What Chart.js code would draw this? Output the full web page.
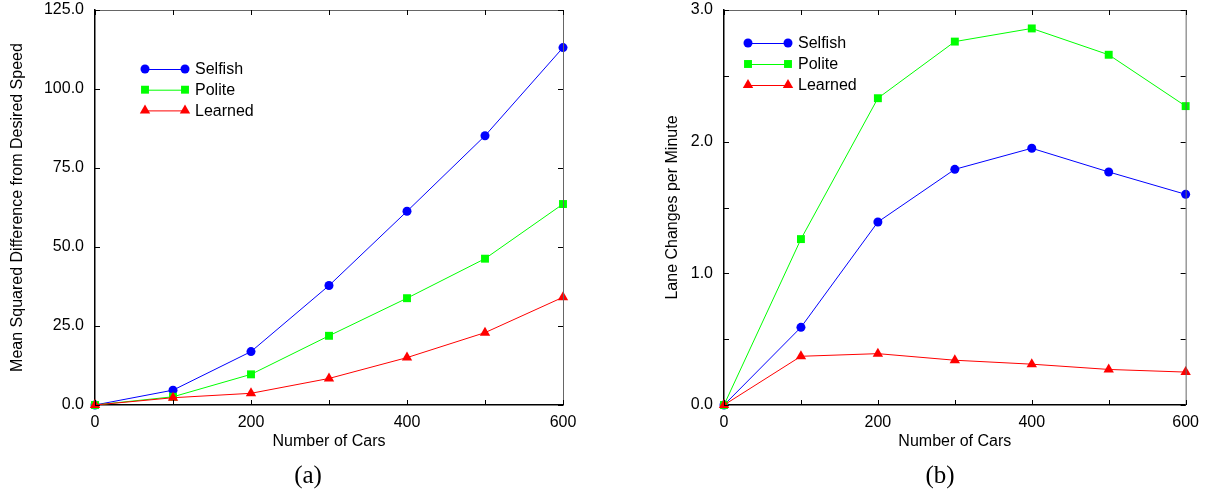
<!DOCTYPE html>
<html>
<head>
<meta charset="utf-8">
<script src="https://cdn.jsdelivr.net/npm/chart.js@4/dist/chart.umd.min.js"></script>
<style>
body { margin: 0; background: #fff; }
#wrap { position: relative; width: 1207px; height: 490px; }
canvas { position: absolute; top: 0; }
#chartA { left: 0; }
#chartB { left: 620px; }
</style>
</head>
<body>
<div id="wrap">
<canvas id="chartA" width="600" height="490"></canvas>
<canvas id="chartB" width="587" height="490"></canvas>
</div>
<script>
// values
const carCounts = [0, 100, 200, 300, 400, 500, 600];
const seriesNames = ['Selfish', 'Polite', 'Learned'];
const selfishSpeedDiff = [0, 4.7, 16.9, 37.8, 61.3, 85.2, 113.1];
const politeSpeedDiff = [0, 2.6, 9.7, 21.9, 33.8, 46.3, 63.6];
const learnedSpeedDiff = [0, 2.3, 3.7, 8.4, 15.0, 22.9, 34.1];
const selfishLaneChanges = [0, 0.59, 1.39, 1.79, 1.95, 1.77, 1.60];
const politeLaneChanges = [0, 1.26, 2.33, 2.76, 2.86, 2.66, 2.27];
const learnedLaneChanges = [0, 0.37, 0.39, 0.34, 0.31, 0.27, 0.25];

const fontfam = '"Liberation Sans", Arial, Helvetica, sans-serif';
const colors = ['#0000ff', '#00ff00', '#ff0000'];
const markers = [
    {style: 'circle', radius: 4.5},
    {style: 'rect', radius: 5.6},
    {style: 'triangle', radius: 6}
];

const toPoints = (vals) => carCounts.map((c, i) => ({x: c, y: vals[i]}));

const makeDatasets = (series) => series.map((vals, i) => ({
    label: seriesNames[i],
    data: toPoints(vals),
    borderColor: colors[i],
    backgroundColor: colors[i],
    borderWidth: 1,
    pointStyle: markers[i].style,
    pointRadius: markers[i].radius,
    pointBorderWidth: 0,
    pointBackgroundColor: colors[i],
    tension: 0,
    clip: false,
    order: i === 2 ? 0 : (i === 1 ? 1 : 2)
}));

const drawMarker = (ctx, style, r, x, y) => {
    ctx.beginPath();
    if (style === 'circle') {
        ctx.arc(x, y, r, 0, Math.PI * 2);
    } else if (style === 'rect') {
        const s = Math.SQRT1_2 * r;
        ctx.rect(x - s, y - s, 2 * s, 2 * s);
    } else {
        ctx.moveTo(x, y - r);
        ctx.lineTo(x + r * Math.sin(Math.PI * 2 / 3), y - r * Math.cos(Math.PI * 2 / 3));
        ctx.lineTo(x + r * Math.sin(Math.PI * 4 / 3), y - r * Math.cos(Math.PI * 4 / 3));
        ctx.closePath();
    }
    ctx.fill();
};

// frame on top/right plus inward tick marks on all four sides, the key and the (a)/(b) caption
const framePlugin = {
    id: 'frame',
    afterDraw: (chart, args, opts) => {
        const ctx = chart.ctx;
        const {left, right, top, bottom} = chart.chartArea;
        const tl = 5;
        ctx.save();
        ctx.lineWidth = 1;
        ctx.strokeStyle = '#666';
        ctx.beginPath();
        ctx.moveTo(left, top + 0.5);
        ctx.lineTo(right + 0.5, top + 0.5);
        ctx.lineTo(right + 0.5, bottom);
        ctx.stroke();
        ctx.strokeStyle = '#000';
        ctx.beginPath();
        for (const t of chart.scales.x.ticks) {
            const px = Math.round(chart.scales.x.getPixelForValue(t.value)) + 0.5;
            ctx.moveTo(px, bottom); ctx.lineTo(px, bottom - tl);
            ctx.moveTo(px, top); ctx.lineTo(px, top + tl);
        }
        for (const t of chart.scales.y.ticks) {
            const py = Math.round(chart.scales.y.getPixelForValue(t.value)) + 0.5;
            ctx.moveTo(left, py); ctx.lineTo(left + tl, py);
            ctx.moveTo(right, py); ctx.lineTo(right - tl, py);
        }
        ctx.stroke();

        // key
        ctx.font = '16px ' + fontfam;
        ctx.textBaseline = 'middle';
        ctx.textAlign = 'left';
        chart.data.datasets.forEach((ds, i) => {
            const y = top + opts.dy + i * opts.row;
            const x1 = left + opts.dx;
            const x2 = x1 + 40;
            ctx.strokeStyle = ds.borderColor;
            ctx.fillStyle = ds.borderColor;
            ctx.beginPath();
            ctx.moveTo(x1, y + 0.5); ctx.lineTo(x2, y + 0.5);
            ctx.stroke();
            drawMarker(ctx, ds.pointStyle, ds.pointRadius, x1, y);
            drawMarker(ctx, ds.pointStyle, ds.pointRadius, x2, y);
            ctx.fillStyle = '#000';
            ctx.fillText(ds.label, x2 + 10, y + 1);
        });

        // caption
        ctx.font = '25px "Liberation Serif", "DejaVu Serif", serif';
        ctx.textAlign = 'center';
        ctx.fillStyle = '#000';
        ctx.fillText(opts.caption, left + opts.capX, 476);
        ctx.restore();
    }
};

const makeOptions = (cfg) => ({
    responsive: false,
    animation: false,
    layout: {padding: {left: cfg.padLeft, right: cfg.padRight, top: 10, bottom: 35}},
    scales: {
        x: {
            type: 'linear',
            min: 0, max: 600,
            grid: {display: false, drawTicks: false},
            border: {display: true, color: '#000', width: 1.5},
            ticks: {
                stepSize: 100, padding: 8, maxRotation: 0, autoSkip: false,
                font: {family: fontfam, size: 16}, color: '#000',
                callback: (v) => (v % 200 === 0 ? String(v) : '')
            },
            title: {display: true, text: 'Number of Cars', font: {family: fontfam, size: 16}, color: '#000', padding: {top: 0, bottom: 4}},
            afterFit: (scale) => { scale.height = 50; }
        },
        y: {
            min: 0, max: cfg.yMax,
            grid: {display: false, drawTicks: false},
            border: {display: true, color: '#000', width: 1.5},
            ticks: {
                stepSize: cfg.yStep, padding: 11, autoSkip: false,
                font: {family: fontfam, size: 16}, color: '#000',
                callback: cfg.yLabel
            },
            title: {display: true, text: cfg.yTitle, font: {family: fontfam, size: 16}, color: '#000', padding: {top: 8, bottom: 0}},
            afterFit: (scale) => {
                scale.width = cfg.yWidth;
                scale.paddingTop = 0;
                scale.paddingBottom = 0;
            }
        }
    },
    plugins: {
        legend: {display: false},
        tooltip: {enabled: false},
        title: {display: false},
        frame: cfg.key
    }
});

new Chart(document.getElementById('chartA'), {
    type: 'line',
    data: {datasets: makeDatasets([selfishSpeedDiff, politeSpeedDiff, learnedSpeedDiff])},
    options: makeOptions({
        padLeft: 0, padRight: 37, yWidth: 95, yMax: 125, yStep: 25,
        yLabel: (v) => v.toFixed(1),
        yTitle: 'Mean Squared Difference from Desired Speed',
        key: {dx: 50, dy: 59, row: 20.7, caption: '(a)', capX: 213}
    }),
    plugins: [framePlugin]
});

new Chart(document.getElementById('chartB'), {
    type: 'line',
    data: {datasets: makeDatasets([selfishLaneChanges, politeLaneChanges, learnedLaneChanges])},
    options: makeOptions({
        padLeft: 35, padRight: 15, yWidth: 69, yMax: 3, yStep: 0.5,
        yLabel: (v) => (Number.isInteger(v) ? v.toFixed(1) : ''),
        yTitle: 'Lane Changes per Minute',
        key: {dx: 24, dy: 33, row: 21, caption: '(b)', capX: 216}
    }),
    plugins: [framePlugin]
});
</script>
</body>
</html>
